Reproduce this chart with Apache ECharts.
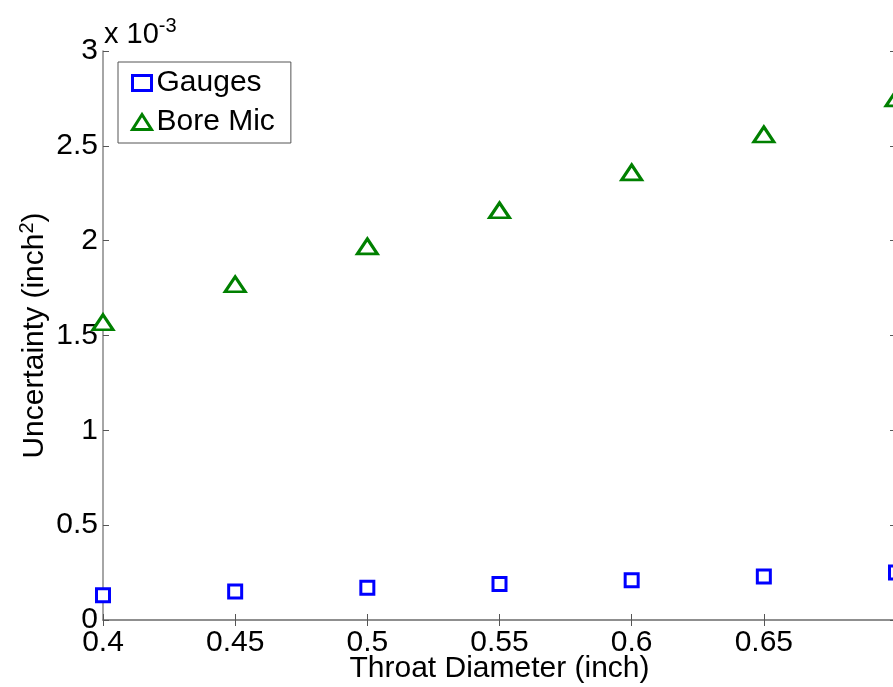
<!DOCTYPE html>
<html>
<head>
<meta charset="utf-8">
<script src="https://cdn.jsdelivr.net/npm/echarts@6/dist/echarts.min.js"></script>
<style>
    html, body { margin: 0; padding: 0; background: #fff; }
    #chart { width: 893px; height: 687px; }
</style>
</head>
<body>
<div id="chart"></div>
<script>
// 数据 (y in units of 1e-3 inch^2)
var diameters = [0.4, 0.45, 0.5, 0.55, 0.6, 0.65, 0.7];
var gauges = [0.13, 0.15, 0.17, 0.19, 0.21, 0.23, 0.25];
var boreMic = [1.57, 1.77, 1.97, 2.16, 2.36, 2.56, 2.75];
var xTicks = [0.4, 0.45, 0.5, 0.55, 0.6, 0.65];   // 0.7 falls off the right edge
var yTicks = [0, 0.5, 1, 1.5, 2, 2.5, 3];

window.onload = function () {
    var myChart = echarts.init(document.getElementById('chart'));
    var font = 'Liberation Sans, Arial, sans-serif';
    var axisGray = '#888888';

    function pairs(ys) {
        var out = [];
        for (var i = 0; i < diameters.length; i++) {
            out.push([diameters[i], ys[i]]);
        }
        return out;
    }

    function xLabel(v) {
        var r = Math.round(v * 100) / 100;
        return xTicks.indexOf(r) >= 0 ? String(r) : '';
    }

    function yLabel(v) {
        var r = Math.round(v * 10) / 10;
        return yTicks.indexOf(r) >= 0 ? String(r) : '';
    }

    var option = {
        animation: false,
        backgroundColor: '#fff',
        grid: {
            left: 103,
            right: -3,
            top: 51,
            bottom: 67,
            containLabel: false,
            outerBoundsMode: 'none'
        },
        legend: {
            left: 118,
            top: 62,
            orient: 'vertical',
            backgroundColor: '#fff',
            borderColor: '#555',
            borderWidth: 1,
            padding: [6, 16, 6, 13],
            itemGap: 9,
            itemWidth: 19,
            itemHeight: 15,
            textStyle: { fontFamily: font, fontSize: 30, color: '#000' },
            data: [{
                name: 'Gauges',
                icon: 'rect',
                itemStyle: { color: '#fff', borderColor: '#0000ff', borderWidth: 3 }
            }, {
                name: 'Bore Mic',
                icon: 'triangle',
                itemStyle: { color: '#fff', borderColor: '#008000', borderWidth: 3 }
            }]
        },
        graphic: [{
            type: 'text',
            left: 104,
            top: 16,
            style: {
                text: 'x 10{sup|-3}',
                fontFamily: font,
                fontSize: 29,
                fill: '#000',
                rich: {
                    sup: { fontFamily: font, fontSize: 20, verticalAlign: 'top', padding: [0, 0, 18, 0] }
                }
            }
        }],
        xAxis: [{
            type: 'value',
            min: 0.4,
            max: 0.7,
            interval: 0.05,
            position: 'bottom',
            name: 'Throat Diameter (inch)',
            nameLocation: 'middle',
            nameMoveOverlap: false,
            nameGap: 34,
            nameTextStyle: { fontFamily: font, fontSize: 30, color: '#000' },
            axisLine: { show: true, lineStyle: { color: axisGray, width: 1.5 } },
            axisTick: { inside: true, length: 6, lineStyle: { color: '#555' } },
            axisLabel: { fontFamily: font, fontSize: 30, color: '#000', margin: 8, formatter: xLabel },
            splitLine: { show: false }
        }, {
            type: 'value',
            min: 0.4,
            max: 0.7,
            interval: 0.05,
            position: 'top',
            axisLine: { show: true, lineStyle: { color: axisGray, width: 1.5 } },
            axisTick: { inside: true, length: 6, lineStyle: { color: '#555' } },
            axisLabel: { show: false },
            splitLine: { show: false }
        }],
        yAxis: [{
            type: 'value',
            min: 0,
            max: 3,
            interval: 0.5,
            position: 'left',
            name: 'Uncertainty (inch{sup|2})',
            nameLocation: 'middle',
            nameMoveOverlap: false,
            nameGap: 50,
            nameRotate: 90,
            nameTextStyle: {
                fontFamily: font, fontSize: 30, color: '#000',
                rich: { sup: { fontFamily: font, fontSize: 20, verticalAlign: 'top', padding: [0, 0, 16, 0] } }
            },
            axisLine: { show: true, lineStyle: { color: axisGray, width: 1.5 } },
            axisTick: { inside: true, length: 6, lineStyle: { color: '#555' } },
            axisLabel: { fontFamily: font, fontSize: 30, color: '#000', margin: 5, formatter: yLabel },
            splitLine: { show: false }
        }, {
            type: 'value',
            min: 0,
            max: 3,
            interval: 0.5,
            position: 'right',
            axisLine: { show: true, lineStyle: { color: axisGray, width: 1.5 } },
            axisTick: { inside: true, length: 6, lineStyle: { color: '#555' } },
            axisLabel: { show: false },
            splitLine: { show: false }
        }],
        series: [{
            name: 'Gauges',
            type: 'scatter',
            symbol: 'rect',
            symbolSize: 13,
            itemStyle: { color: '#fff', borderColor: '#0000ff', borderWidth: 3, opacity: 1 },
            data: pairs(gauges)
        }, {
            name: 'Bore Mic',
            type: 'scatter',
            symbol: 'triangle',
            symbolSize: [20, 15],
            itemStyle: { color: '#fff', borderColor: '#008000', borderWidth: 3, opacity: 1 },
            data: pairs(boreMic)
        }]
    };

    myChart.setOption(option);
};
</script>
</body>
</html>
